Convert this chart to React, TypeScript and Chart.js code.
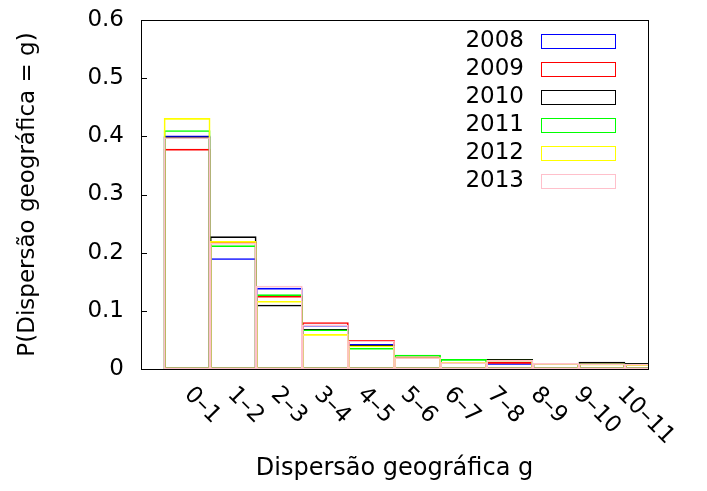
import { useEffect, useRef } from "react";
import { Chart, registerables } from "chart.js";

Chart.register(...registerables);

// ---- data ----
const categories = ["0–1", "1–2", "2–3", "3–4", "4–5", "5–6", "6–7", "7–8", "8–9", "9–10", "10–11"];
const years = ["2008", "2009", "2010", "2011", "2012", "2013"];
const colors = ["#0000ff", "#ff0000", "#000000", "#00ff00", "#ffff00", "#ffc0cb"];

const p2008 = [0.401, 0.19, 0.139, 0.0755, 0.0425, 0.0195, 0.011, 0.0095, 0.0097, 0.009, 0.0085];
const p2009 = [0.378, 0.2185, 0.125, 0.08, 0.0493, 0.021, 0.011, 0.0115, 0.0097, 0.009, 0.0085];
const p2010 = [0.399, 0.2275, 0.11, 0.068, 0.0405, 0.0195, 0.011, 0.0166, 0.0097, 0.0118, 0.0097];
const p2011 = [0.41, 0.212, 0.128, 0.0675, 0.036, 0.024, 0.0166, 0.0155, 0.0097, 0.009, 0.0085];
const p2012 = [0.431, 0.2195, 0.1164, 0.0596, 0.04, 0.0195, 0.0115, 0.0155, 0.0097, 0.0088, 0.0074];
const p2013 = [0.398, 0.2165, 0.1427, 0.0756, 0.0485, 0.0195, 0.011, 0.015, 0.0097, 0.009, 0.0085];
const series = [p2008, p2009, p2010, p2011, p2012, p2013];

const yTicks = [0, 0.1, 0.2, 0.3, 0.4, 0.5, 0.6];
const yTickLabels = ["0", "0.1", "0.2", "0.3", "0.4", "0.5", "0.6"];

const FONT = "DejaVu Sans";

const decorPlugin = {
  id: "gnuplotDecor",
  beforeDatasetsDraw(chart: any) {
    const { ctx, chartArea: a } = chart;
    const y = chart.scales.y;
    ctx.save();
    ctx.strokeStyle = "#000";
    ctx.lineWidth = 1;
    ctx.strokeRect(a.left + 0.5, a.top + 0.5, a.right - a.left, a.bottom - a.top);
    // inward tick marks on the y axis
    ctx.beginPath();
    yTicks.forEach((v) => {
      const py = Math.round(y.getPixelForValue(v)) + 0.5;
      ctx.moveTo(a.left, py);
      ctx.lineTo(a.left + 6, py);
    });
    ctx.stroke();
    ctx.restore();
  },
  beforeDatasetDraw(chart: any) {
    const { ctx, chartArea: a } = chart;
    ctx.save();
    ctx.beginPath();
    ctx.rect(a.left, a.top, a.right - a.left + 1, a.bottom - a.top + 1);
    ctx.clip();
  },
  afterDatasetDraw(chart: any) {
    chart.ctx.restore();
  },
  afterDraw(chart: any) {
    const { ctx, chartArea: a } = chart;
    ctx.save();
    // rotated category labels
    const xl = chart.scales.xl;
    ctx.fillStyle = "#000";
    ctx.font = `23px "${FONT}"`;
    ctx.textAlign = "left";
    ctx.textBaseline = "middle";
    categories.forEach((c, i) => {
      const px = xl.getPixelForValue(i);
      ctx.save();
      ctx.translate(px, a.bottom + 22);
      ctx.rotate(Math.PI / 4);
      ctx.fillText(c, 0, 0);
      ctx.restore();
    });
    // legend inside the plot, top right
    const ds = chart.data.datasets;
    ctx.textAlign = "right";
    ds.forEach((d: any, i: number) => {
      const cy = a.top + 20.5 + 28 * i;
      ctx.fillStyle = "#000";
      ctx.fillText(d.label, a.right - 124, cy + 1);
      ctx.strokeStyle = d.borderColor;
      ctx.lineWidth = 1;
      ctx.strokeRect(a.right - 106.5, Math.round(cy - 7) + 0.5, 74, 14);
    });
    ctx.restore();
  },
};

export default function App() {
  const ref = useRef<HTMLCanvasElement | null>(null);

  useEffect(() => {
    document.body.style.margin = "0";
    const canvas = ref.current;
    if (!canvas) return;
    Chart.defaults.font.family = FONT;
    const chart = new Chart(canvas, {
      type: "bar",
      data: {
        datasets: years.map((yr, i) => ({
          label: yr,
          data: series[i].map((v, k) => ({ x: k, y: v })),
          borderColor: colors[i],
          backgroundColor: "rgba(0,0,0,0)",
          borderWidth: 1,
          borderSkipped: false,
          grouped: false,
          categoryPercentage: 1,
          barPercentage: 1,
          order: years.length - 1 - i,
          xAxisID: "x",
          yAxisID: "y",
        })),
      } as any,
      options: {
        animation: false,
        responsive: false,
        devicePixelRatio: 1,
        layout: { padding: { top: 20, right: 59, bottom: 0, left: 0 } },
        plugins: {
          legend: { display: false },
          tooltip: { enabled: false },
        },
        scales: {
          xl: {
            type: "linear",
            position: "bottom",
            min: -1.08,
            max: 10.63,
            offset: false,
            grid: { display: false, drawTicks: false },
            border: { display: false },
            ticks: { display: false },
            afterFit: (s: any) => {
              s.height = 0;
            },
          },
          x: {
            type: "linear",
            position: "bottom",
            min: -1,
            max: 10,
            offset: false,
            grid: { display: false, drawTicks: false },
            border: { display: false },
            ticks: { display: false },
            title: {
              display: true,
              text: "Dispersão geográfica g",
              color: "#000",
              font: { family: FONT, size: 24 },
              padding: { top: 0, bottom: 8 },
            },
            afterFit: (s: any) => {
              s.height = 122;
            },
          },
          y: {
            type: "linear",
            min: 0,
            max: 0.6,
            grid: { display: false, drawTicks: false },
            border: { display: false },
            afterBuildTicks: (s: any) => {
              s.ticks = yTicks.map((v) => ({ value: v }));
            },
            ticks: {
              color: "#000",
              font: { family: FONT, size: 23 },
              padding: 17,
              callback: (v: any) => yTickLabels[yTicks.indexOf(Number(v))] ?? String(v),
            },
            title: {
              display: true,
              text: "P(Dispersão geográfica = g)",
              color: "#000",
              font: { family: FONT, size: 23 },
              padding: { top: 14, bottom: 0 },
            },
            afterFit: (s: any) => {
              s.width = 141;
              s.paddingTop = 0;
              s.paddingBottom = 0;
            },
          },
        },
      } as any,
      plugins: [decorPlugin],
    });
    return () => chart.destroy();
  }, []);

  return (
    <div style={{ position: "absolute", left: 0, top: 0, width: 707, height: 491, background: "#fff" }}>
      <canvas ref={ref} width={707} height={491} style={{ display: "block" }} />
    </div>
  );
}
